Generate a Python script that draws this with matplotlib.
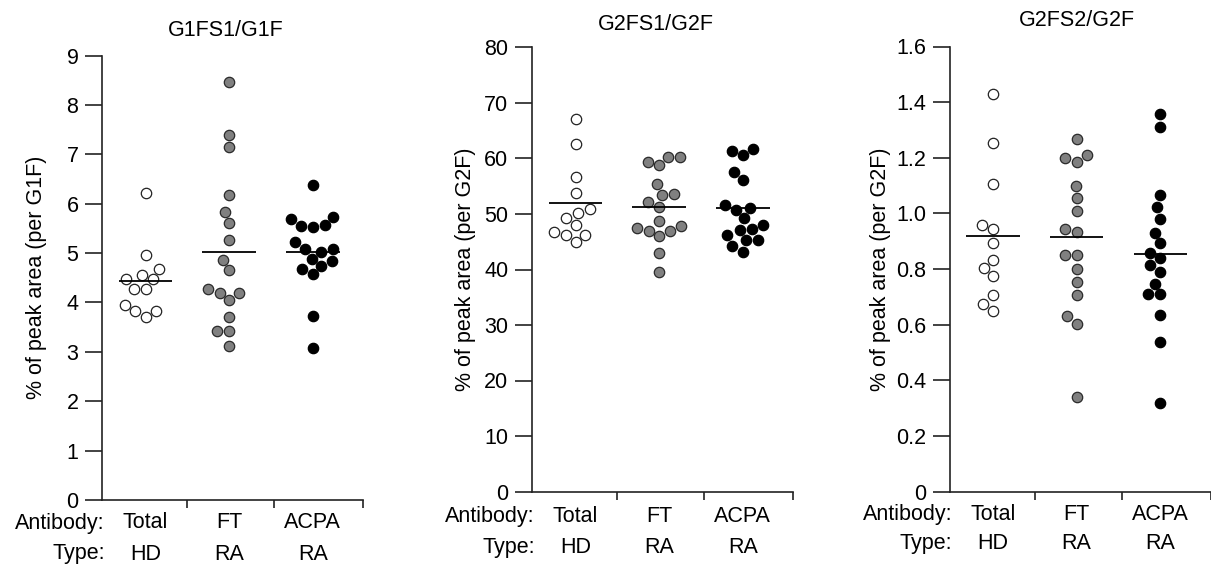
import numpy as np
import matplotlib
matplotlib.use("Agg")
import matplotlib.pyplot as plt
import matplotlib.transforms as mtransforms
from matplotlib.ticker import FuncFormatter

plt.rcParams['font.family'] = ['Liberation Sans', 'DejaVu Sans']

# ---------------- data ----------------
antibodies = ["Total", "FT", "ACPA"]
types = ["HD", "RA", "RA"]
titles = ["G1FS1/G1F", "G2FS1/G2F", "G2FS2/G2F"]
ylabels = ["% of peak area (per G1F)", "% of peak area (per G2F)", "% of peak area (per G2F)"]

g1_total = [6.22, 4.97, 4.68, 4.55, 4.47, 4.47, 4.28, 4.28, 3.95, 3.83, 3.83, 3.70]
g1_ft = [8.46, 7.40, 7.14, 6.17, 5.84, 5.61, 5.26, 4.86, 4.65, 4.27, 4.20, 4.20,
         4.05, 3.70, 3.42, 3.42, 3.12]
g1_acpa = [6.37, 5.73, 5.69, 5.56, 5.55, 5.52, 5.22, 5.09, 5.08, 5.03, 4.88, 4.84,
           4.74, 4.68, 4.57, 3.72, 3.07]
g1_means = [4.44, 5.02, 5.02]

g2s1_total = [67.1, 62.7, 56.6, 53.8, 50.9, 50.1, 49.2, 48.0, 46.8, 46.3, 46.3, 45.0]
g2s1_ft = [60.2, 60.3, 59.4, 58.8, 55.4, 53.6, 53.4, 52.1, 51.3, 48.7, 47.9, 47.5,
           47.0, 47.0, 46.0, 43.0, 39.5]
g2s1_acpa = [61.4, 61.7, 60.6, 57.5, 56.1, 51.6, 51.1, 50.7, 49.2, 48.0, 47.3, 47.2,
             46.2, 45.3, 45.3, 44.3, 43.2]
g2s1_means = [51.9, 51.2, 51.1]

g2s2_total = [1.430, 1.253, 1.105, 0.960, 0.943, 0.894, 0.834, 0.804, 0.775, 0.706,
              0.673, 0.650]
g2s2_ft = [1.269, 1.209, 1.200, 1.185, 1.098, 1.055, 1.008, 0.943, 0.932, 0.852,
           0.852, 0.802, 0.755, 0.706, 0.631, 0.604, 0.341]
g2s2_acpa = [1.356, 1.311, 1.068, 1.022, 0.981, 0.931, 0.893, 0.859, 0.840, 0.813,
             0.791, 0.748, 0.710, 0.710, 0.636, 0.539, 0.317]
g2s2_means = [0.919, 0.916, 0.853]

y_max = [9, 80, 1.6]
y_step = [1, 10, 0.2]

panels = [
    (g1_total, g1_ft, g1_acpa, g1_means),
    (g2s1_total, g2s1_ft, g2s1_acpa, g2s1_means),
    (g2s2_total, g2s2_ft, g2s2_acpa, g2s2_means),
]

# ---------------- styling ----------------
W, H = 1211, 566
FS = 15.5
face_colors = ["white", "#808080", "black"]
edge_colors = ["#222222", "#2a2a2a", "black"]

# axes boxes in pixels: (left, top, right, bottom)
boxes = [(102, 55.5, 363, 500), (532, 47.5, 793, 491.5), (949.5, 46.5, 1210.5, 491.7)]
title_pos = [(226, 30), (656, 24), (1077, 21)]
ylabel_off = [65, 67, 69]
row_off = [(23, 54), (25, 56), (23, 52)]

fig = plt.figure(figsize=(W / 100, H / 100), dpi=100)


def swarm(ys_px, d):
    order = np.argsort(ys_px)
    placed = []
    xs = np.zeros(len(ys_px))
    for i in order:
        y = ys_px[i]
        neigh = [(px, py) for px, py in placed if abs(py - y) < d]
        cands = [0.0]
        for px, py in neigh:
            dx = np.sqrt(max(d * d - (py - y) ** 2, 0.0))
            cands += [px + dx, px - dx]
        cands.sort(key=lambda c: (abs(c), c))
        for c in cands:
            if all((c - px) ** 2 + (y - py) ** 2 >= d * d - 1e-6 for px, py in neigh):
                xs[i] = c
                break
        placed.append((xs[i], y))
    return xs


for k, (tot, ft, acpa, means) in enumerate(panels):
    l, t, r, b = boxes[k]
    ax = fig.add_axes([l / W, 1 - b / H, (r - l) / W, (b - t) / H])
    ax.set_xlim(-0.52, 2.6)
    ax.set_ylim(0, y_max[k])
    for s in ["top", "right"]:
        ax.spines[s].set_visible(False)
    for s in ["left", "bottom"]:
        ax.spines[s].set_linewidth(1.2)
        ax.spines[s].set_color("#222222")

    yt = np.arange(0, y_max[k] + y_step[k] / 2, y_step[k])
    ax.set_yticks(yt)
    if k == 2:
        ax.yaxis.set_major_formatter(FuncFormatter(lambda v, p: "0" if abs(v) < 1e-9 else f"{v:.1f}"))
    else:
        ax.yaxis.set_major_formatter(FuncFormatter(lambda v, p: f"{v:.0f}"))
    ax.tick_params(axis="y", length=12, width=1.2, pad=5, labelsize=FS, color="#222222")
    ax.set_xticks([0.5, 1.54, 2.6])
    ax.set_xticklabels([])
    ax.tick_params(axis="x", length=6, width=1.2, color="#222222")

    fig.canvas.draw()
    ppu = ax.transData.transform((1, 0))[0] - ax.transData.transform((0, 0))[0]

    for j, vals in enumerate([tot, ft, acpa]):
        vals = np.asarray(vals, dtype=float)
        ypx = np.array([ax.transData.transform((0, v))[1] for v in vals])
        offs = swarm(ypx, 12.0) / ppu
        ax.scatter(j + offs, vals, s=56, c=face_colors[j], edgecolors=edge_colors[j],
                   linewidths=0.9, zorder=3, clip_on=False)
        ax.plot([j - 0.32, j + 0.32], [means[j], means[j]], color="black", lw=1.3,
                zorder=4, solid_capstyle="butt")

    # ylabel
    trans = mtransforms.offset_copy(ax.transAxes, fig=fig, x=-ylabel_off[k], y=0, units="dots")
    ax.text(0, 0.5, ylabels[k], rotation=90, ha="center", va="center", fontsize=FS,
            transform=trans)

    # title
    fig.text(title_pos[k][0] / W, 1 - title_pos[k][1] / H, titles[k], ha="center",
             va="center", fontsize=FS)

    # category label rows
    r1, r2 = row_off[k]
    for j in range(3):
        ax.annotate(antibodies[j], xy=(j, 0), xycoords=("data", "axes fraction"),
                    xytext=(0, -r1), textcoords="offset pixels", ha="center", va="center",
                    fontsize=FS, annotation_clip=False)
        ax.annotate(types[j], xy=(j, 0), xycoords=("data", "axes fraction"),
                    xytext=(0, -r2), textcoords="offset pixels", ha="center", va="center",
                    fontsize=FS, annotation_clip=False)
    ax.annotate("Antibody:", xy=(0, 0), xycoords="axes fraction", xytext=(3, -r1),
                textcoords="offset pixels", ha="right", va="center", fontsize=FS,
                annotation_clip=False)
    ax.annotate("Type:", xy=(0, 0), xycoords="axes fraction", xytext=(3, -r2),
                textcoords="offset pixels", ha="right", va="center", fontsize=FS,
                annotation_clip=False)

fig.savefig("out.png", dpi=100)
